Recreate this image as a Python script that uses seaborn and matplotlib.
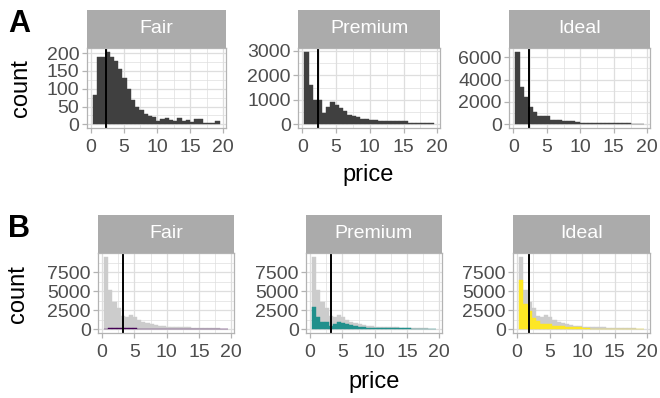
import numpy as np
import pandas as pd
import matplotlib
matplotlib.use("Agg")
import matplotlib.pyplot as plt
import seaborn as sns

sns.set_theme(style="whitegrid")
plt.rcParams['font.family'] = ['Liberation Sans', 'DejaVu Sans']

# ---------------- data ----------------
cuts = ["Fair", "Premium", "Ideal"]
cut_colors = ["#440154", "#21908C", "#FDE725"]
bin_start = 0.319
bin_width = 0.638
n_bins = 30

fair_counts = [83, 188, 190, 204, 190, 177, 154, 131, 99, 67, 50, 41, 30, 23, 21,
               10, 15, 19, 12, 10, 18, 9, 12, 7, 14, 15, 5, 5, 5, 10]
premium_counts = [2960, 1620, 1010, 990, 450, 720, 920, 800, 650, 550, 390, 340, 280, 210, 200,
                  195, 190, 145, 140, 140, 135, 135, 130, 130, 75, 70, 70, 70, 65, 60]
ideal_counts = [6500, 3350, 2450, 1550, 1100, 760, 750, 740, 420, 400, 380, 280, 270, 260, 250,
                120, 115, 110, 110, 105, 105, 100, 100, 100, 95, 95, 90, 40, 35, 30]
all_counts = [9543, 5158, 3650, 2744, 1740, 1657, 1824, 1671, 1169, 1017, 820, 661, 580, 493, 471,
              325, 320, 274, 262, 255, 258, 244, 242, 237, 184, 180, 165, 115, 105, 100]

overall_median = 2.3
cut_medians = [3.28, 3.19, 1.81]

x_ticks = [0, 5, 10, 15, 20]
a_yticks = [[0, 50, 100, 150, 200], [0, 1000, 2000, 3000], [0, 2000, 4000, 6000]]
b_yticks = [0, 2500, 5000, 7500]

counts_by_cut = [fair_counts, premium_counts, ideal_counts]

edges = (bin_start + bin_width * np.arange(n_bins + 1)).tolist()
centers = [e + bin_width / 2 for e in edges[:-1]]

# ---------------- layout ----------------
W, H = 660, 398
fig = plt.figure(figsize=(W / 100, H / 100), dpi=100)
fig.patch.set_facecolor("white")

def rect(x0, x1, ytop, ybot):
    return [x0 / W, 1 - ybot / H, (x1 - x0) / W, (ybot - ytop) / H]

a_cols = [(86.5, 226), (298, 440), (509, 650)]
b_cols = [(98, 234), (306, 442), (513, 650)]
a_strip = (9.5, 48)
a_panel = (48, 128)
b_strip = (215, 253)
b_panel = (253, 333)

GRID = "#DEDEDE"
BORDER = "#B3B3B3"
STRIP = "#ABABAB"

def style_panel(ax, yticks, ymax):
    ax.set_facecolor("white")
    ax.set_xlim(-0.638, 20.41)
    ax.set_ylim(-0.05 * ymax, 1.05 * ymax)
    ax.set_xticks(x_ticks)
    ax.set_xticks([2.5, 7.5, 12.5, 17.5], minor=True)
    ax.set_yticks(yticks)
    ymin_t = [(yticks[i] + yticks[i + 1]) / 2 for i in range(len(yticks) - 1)]
    step = yticks[1] - yticks[0]
    if yticks[-1] + step / 2 < 1.05 * ymax:
        ymin_t.append(yticks[-1] + step / 2)
    ax.set_yticks(ymin_t, minor=True)
    ax.set_xticklabels([str(t) for t in x_ticks])
    ax.set_yticklabels([str(t) for t in yticks])
    ax.grid(which="major", color=GRID, linewidth=0.9)
    ax.grid(which="minor", color=GRID, linewidth=0.5)
    for s in ax.spines.values():
        s.set_color(BORDER)
        s.set_linewidth(0.9)
    ax.tick_params(axis="x", which="major", length=3.6, width=0.9, color=BORDER,
                   labelsize=14, labelcolor="#4D4D4D", pad=4.5, bottom=True)
    ax.tick_params(axis="y", which="major", length=3.6, width=0.9, color=BORDER,
                   labelsize=14, labelcolor="#4D4D4D", pad=1.5, left=True)
    ax.tick_params(which="minor", length=0)
    ax.set_axisbelow(True)
    ax.set_xlabel("")
    ax.set_ylabel("")

def add_strip(x0, x1, ytop, ybot, label):
    sax = fig.add_axes(rect(x0, x1, ytop, ybot))
    sax.set_facecolor(STRIP)
    sax.set_xticks([])
    sax.set_yticks([])
    for s in sax.spines.values():
        s.set_visible(False)
    sax.text(0.5, 0.5, label, ha="center", va="center", color="white",
             fontsize=14, transform=sax.transAxes)

def draw_hist(ax, counts, color):
    df = pd.DataFrame({"price": centers, "n": counts})
    sns.histplot(data=df, x="price", weights="n", bins=edges, ax=ax,
                 color=color, alpha=1, edgecolor=color, linewidth=0.3)

# ---------------- row A ----------------
for i, cut in enumerate(cuts):
    x0, x1 = a_cols[i]
    ax = fig.add_axes(rect(x0, x1, *a_panel))
    draw_hist(ax, counts_by_cut[i], "#404040")
    ax.axvline(overall_median, color="black", linewidth=1.4)
    style_panel(ax, a_yticks[i], max(counts_by_cut[i]))
    add_strip(x0, x1, a_strip[0], a_strip[1], cut)

# ---------------- row B ----------------
b_max = max(all_counts)
for i, cut in enumerate(cuts):
    x0, x1 = b_cols[i]
    ax = fig.add_axes(rect(x0, x1, *b_panel))
    draw_hist(ax, all_counts, "#CCCCCC")
    draw_hist(ax, counts_by_cut[i], cut_colors[i])
    ax.axvline(cut_medians[i], color="black", linewidth=1.4)
    style_panel(ax, b_yticks, b_max)
    add_strip(x0, x1, b_strip[0], b_strip[1], cut)

# ---------------- titles & tags ----------------
fig.text(21 / W, 1 - 88 / H, "count", rotation=90, ha="center", va="center",
         fontsize=17, color="black")
fig.text(18 / W, 1 - 294 / H, "count", rotation=90, ha="center", va="center",
         fontsize=17, color="black")
fig.text(368 / W, 1 - 181 / H, "price", ha="center", va="baseline",
         fontsize=17, color="black")
fig.text(374 / W, 1 - 388 / H, "price", ha="center", va="baseline",
         fontsize=17, color="black")
fig.text(8 / W, 1 - 32 / H, "A", ha="left", va="baseline", fontsize=22,
         fontweight="bold", color="black")
fig.text(8 / W, 1 - 237 / H, "B", ha="left", va="baseline", fontsize=22,
         fontweight="bold", color="black")

fig.savefig("out.png", dpi=100, facecolor="white")
